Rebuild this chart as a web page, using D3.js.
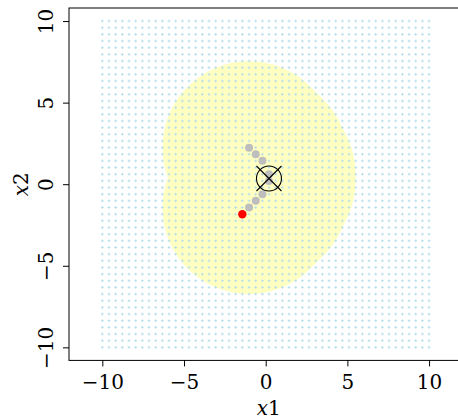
<!DOCTYPE html>
<html>
<head>
<meta charset="utf-8">
<script src="https://cdn.jsdelivr.net/npm/d3@7"></script>
<style>
  body { margin: 0; background: #fff; }
</style>
</head>
<body>
<div class="chart"></div>
<script>
var svgWidth = 458;
var svgHeight = 420;

// grid of candidate points, 50 x 50 over [-10, 10]
var gridN = 50;
var gridMin = -10;
var gridMax = 10;

// visited points (gray) and the latest point (red)
var pathX1 = [-1.02, -0.61, -0.20, 0.20, 0.20, -0.20, -0.61, -1.02];
var pathX2 = [2.24, 1.84, 1.43, 0.61, 0.20, -0.61, -1.02, -1.43];
var lastX1 = [-1.43];
var lastX2 = [-1.84];

// current estimate (circle with cross)
var bestX1 = [0.20];
var bestX2 = [0.35];

// radius of the trust region around each visited point
var regionRadius = 5.3;

var xTicks = [-10, -5, 0, 5, 10];
var yTicks = [-10, -5, 0, 5, 10];

var plotLeft = 69, plotRight = 462.4, plotTop = 8, plotBottom = 360.4;
var serif = "DejaVu Serif";

var svg = d3.select(".chart")
  .append("svg")
  .attr("width", svgWidth)
  .attr("height", svgHeight);

var xScale = d3.scaleLinear()
  .domain([-12.04, 12.04])
  .range([plotLeft, plotRight]);

var yScale = d3.scaleLinear()
  .domain([-10.8, 10.8])
  .range([plotBottom, plotTop]);

var unit = xScale(1) - xScale(0);

// yellow region: union of disks
svg.append("g")
  .selectAll("circle")
  .data(pathX1.map((d, i) => [d, pathX2[i]]))
  .enter()
  .append("circle")
  .attr("cx", d => xScale(d[0]))
  .attr("cy", d => yScale(d[1]))
  .attr("r", regionRadius * unit)
  .attr("fill", "#ffffc2");

// grid pluses
var grid = [];
for (var i = 0; i < gridN; i++) {
  for (var j = 0; j < gridN; j++) {
    grid.push([gridMin + i * (gridMax - gridMin) / (gridN - 1),
               gridMin + j * (gridMax - gridMin) / (gridN - 1)]);
  }
}
svg.append("path")
  .attr("d", grid.map(function(d) {
    var px = xScale(d[0]), py = yScale(d[1]);
    return `M${px - 1.4},${py}H${px + 1.4}M${px},${py - 1.4}V${py + 1.4}`;
  }).join(""))
  .attr("stroke", "#b4dcea")
  .attr("stroke-width", 0.9)
  .attr("fill", "none");

// visited points
svg.append("g")
  .selectAll("circle")
  .data(pathX1.map((d, i) => [d, pathX2[i]]))
  .enter()
  .append("circle")
  .attr("cx", d => xScale(d[0]))
  .attr("cy", d => yScale(d[1]))
  .attr("r", 4)
  .attr("fill", "#bebebe");

svg.append("g")
  .selectAll("circle")
  .data(lastX1.map((d, i) => [d, lastX2[i]]))
  .enter()
  .append("circle")
  .attr("cx", d => xScale(d[0]))
  .attr("cy", d => yScale(d[1]))
  .attr("r", 4.2)
  .attr("fill", "#ff0000");

// best estimate marker
var best = svg.append("g");
bestX1.forEach(function(d, i) {
  var cx = xScale(d), cy = yScale(bestX2[i]);
  best.append("circle")
    .attr("cx", cx).attr("cy", cy).attr("r", 12.5)
    .attr("fill", "none").attr("stroke", "#000").attr("stroke-width", 1.1);
  best.append("path")
    .attr("d", `M${cx - 12.5},${cy - 12.5}L${cx + 12.5},${cy + 12.5}M${cx - 12.5},${cy + 12.5}L${cx + 12.5},${cy - 12.5}`)
    .attr("stroke", "#000").attr("stroke-width", 1.1);
});

// box
svg.append("rect")
  .attr("x", plotLeft).attr("y", plotTop)
  .attr("width", plotRight - plotLeft).attr("height", plotBottom - plotTop)
  .attr("fill", "none").attr("stroke", "#000").attr("stroke-width", 1);

// axes
var bottomAxis = d3.axisBottom(xScale).tickValues(xTicks).tickSize(6).tickPadding(4);
var xAxis = svg.append("g")
  .attr("transform", `translate(0, ${plotBottom})`)
  .call(bottomAxis);
xAxis.attr("font-family", serif);
xAxis.select(".domain").remove();
xAxis.selectAll("text")
  .attr("font-size", "20px")
  .attr("dy", "0.95em")
  .style("font-family", serif);

var leftAxis = d3.axisLeft(yScale).tickValues(yTicks).tickSize(6);
var yAxis = svg.append("g")
  .attr("transform", `translate(${plotLeft}, 0)`)
  .call(leftAxis);
yAxis.attr("font-family", serif);
yAxis.select(".domain").remove();
yAxis.selectAll("text")
  .attr("font-size", "20px")
  .attr("x", null).attr("dy", null)
  .attr("text-anchor", "middle")
  .attr("transform", "translate(-16, 0) rotate(-90)")
  .style("font-family", serif);

// axis titles
svg.append("text")
  .attr("x", xScale(0) + 3)
  .attr("y", 415)
  .attr("text-anchor", "middle")
  .attr("font-size", "20px")
  .style("font-family", serif)
  .html('<tspan font-style="italic">x</tspan>1');

svg.append("text")
  .attr("transform", `translate(28, ${yScale(0)}) rotate(-90)`)
  .attr("text-anchor", "middle")
  .attr("font-size", "20px")
  .style("font-family", serif)
  .html('<tspan font-style="italic">x</tspan>2');
</script>
</body>
</html>
